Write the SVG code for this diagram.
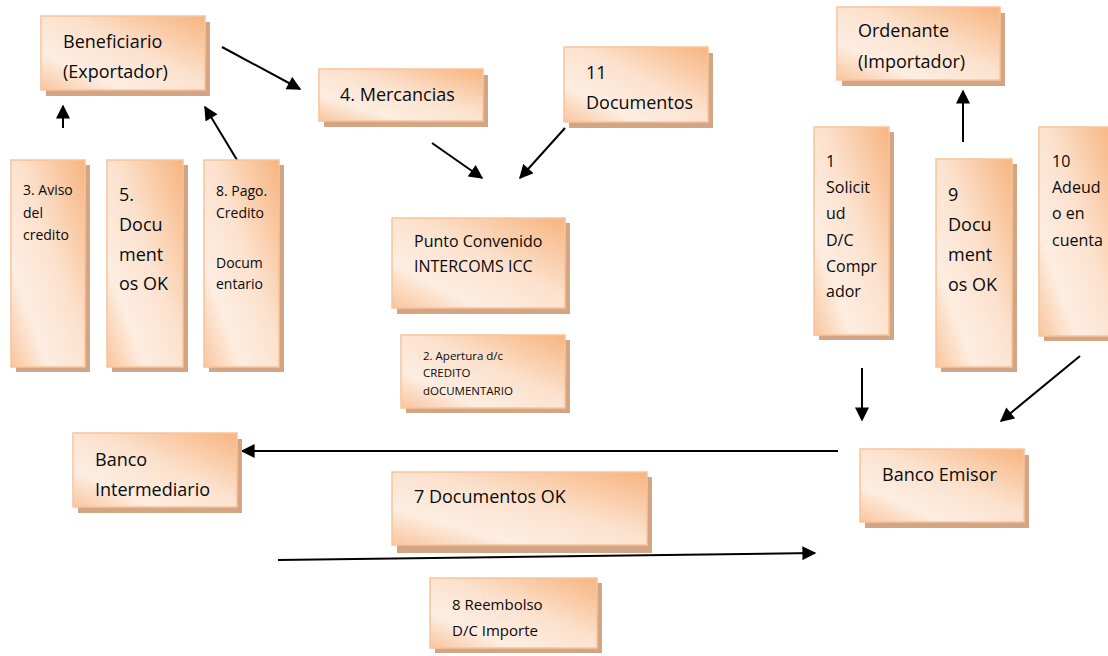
<svg xmlns="http://www.w3.org/2000/svg" width="1108" height="656" viewBox="0 0 1108 656">
  <defs>
    <linearGradient id="boxFill" x1="1" y1="0" x2="0" y2="1">
      <stop offset="0" stop-color="#F7B47F"/>
      <stop offset="0.45" stop-color="#FCE2CE"/>
      <stop offset="0.75" stop-color="#FDEDE1"/>
      <stop offset="1" stop-color="#F9C59C"/>
    </linearGradient>
    <marker id="arrow" viewBox="0 0 10 10" refX="9" refY="5" markerWidth="7.5" markerHeight="7" markerUnits="strokeWidth" orient="auto">
      <path d="M0,0 L10,5 L0,10 Z" fill="#000"/>
    </marker>
  </defs>
  <style>
    .shadow { fill: #D2A584; }
    .box { fill: url(#boxFill); stroke: #F9C39A; stroke-width: 1.5; }
    text { font-family: "Open Sans", "Liberation Sans", sans-serif; fill: #0a0a0a; }
    .t18 { font-size: 18px; }
    .t16 { font-size: 16px; }
    .t15 { font-size: 15px; }
    .t14 { font-size: 14px; }
    .t12 { font-size: 11.5px; }
    .conn { stroke: #000; stroke-width: 2; fill: none; marker-end: url(#arrow); }
  </style>

  <rect width="1108" height="656" fill="#fff"/>

  <!-- Flow arrows -->
  <g id="connectors">
    <line class="conn" x1="222" y1="47" x2="300" y2="89"/>
    <line class="conn" x1="63" y1="128" x2="63" y2="106"/>
    <line class="conn" x1="237" y1="160" x2="205" y2="107"/>
    <line class="conn" x1="432" y1="143" x2="482" y2="178"/>
    <line class="conn" x1="565" y1="128" x2="520" y2="178"/>
    <line class="conn" x1="963" y1="142" x2="963" y2="91"/>
    <line class="conn" x1="862" y1="368" x2="862" y2="420"/>
    <line class="conn" x1="1080" y1="356" x2="1001" y2="421"/>
    <line class="conn" x1="838" y1="451" x2="242" y2="451"/>
    <line class="conn" x1="278" y1="560" x2="815" y2="553"/>
  </g>

  <g id="beneficiario">
    <rect class="shadow" x="46" y="22" width="164" height="74"/>
    <rect class="box" x="41" y="16" width="164" height="74"/>
    <text class="t18"><tspan x="63" y="48">Beneficiario</tspan><tspan x="63" y="78">(Exportador)</tspan></text>
  </g>

  <g id="mercancias">
    <rect class="shadow" x="324" y="75" width="164" height="52"/>
    <rect class="box" x="319" y="69" width="164" height="52"/>
    <text class="t18" x="340" y="101">4. Mercancias</text>
  </g>

  <g id="documentos11">
    <rect class="shadow" x="569" y="53" width="144" height="75"/>
    <rect class="box" x="564" y="47" width="144" height="75"/>
    <text class="t18"><tspan x="586" y="79">11</tspan><tspan x="586" y="109">Documentos</tspan></text>
  </g>

  <g id="ordenante">
    <rect class="shadow" x="842" y="13" width="163" height="73"/>
    <rect class="box" x="837" y="7" width="163" height="73"/>
    <text class="t18"><tspan x="858" y="37">Ordenante</tspan><tspan x="858" y="68">(Importador)</tspan></text>
  </g>

  <g id="aviso">
    <rect class="shadow" x="16" y="165" width="74" height="207"/>
    <rect class="box" x="11" y="160" width="74" height="207"/>
    <text class="t14"><tspan x="23" y="195">3. Aviso</tspan><tspan x="23" y="218">del</tspan><tspan x="23" y="240">credito</tspan></text>
  </g>

  <g id="documentosOK5">
    <rect class="shadow" x="112" y="165" width="76" height="207"/>
    <rect class="box" x="107" y="160" width="76" height="207"/>
    <text class="t18"><tspan x="119" y="201">5.</tspan><tspan x="119" y="231">Docu</tspan><tspan x="119" y="261">ment</tspan><tspan x="119" y="290">os OK</tspan></text>
  </g>

  <g id="pagoCredito">
    <rect class="shadow" x="209" y="165" width="75" height="207"/>
    <rect class="box" x="204" y="160" width="75" height="207"/>
    <text class="t14"><tspan x="216" y="196">8. Pago.</tspan><tspan x="216" y="218">Credito</tspan><tspan x="216" y="268">Docum</tspan><tspan x="216" y="289">entario</tspan></text>
  </g>

  <g id="puntoConvenido">
    <rect class="shadow" x="397" y="223" width="173" height="91"/>
    <rect class="box" x="392" y="218" width="173" height="90"/>
    <text class="t16"><tspan x="414" y="247">Punto Convenido</tspan><tspan x="414" y="272">INTERCOMS ICC</tspan></text>
  </g>

  <g id="apertura">
    <rect class="shadow" x="406" y="340" width="164" height="73"/>
    <rect class="box" x="401" y="335" width="164" height="73"/>
    <text class="t12"><tspan x="423" y="360">2. Apertura d/c</tspan><tspan x="423" y="377">CREDITO</tspan><tspan x="423" y="395">dOCUMENTARIO</tspan></text>
  </g>

  <g id="solicitud">
    <rect class="shadow" x="819" y="132" width="75" height="208"/>
    <rect class="box" x="814" y="127" width="75" height="208"/>
    <text class="t16"><tspan x="826" y="167">1</tspan><tspan x="826" y="193">Solicit</tspan><tspan x="826" y="219">ud</tspan><tspan x="826" y="246">D/C</tspan><tspan x="826" y="272">Compr</tspan><tspan x="826" y="297">ador</tspan></text>
  </g>

  <g id="documentosOK9">
    <rect class="shadow" x="941" y="164" width="76" height="208"/>
    <rect class="box" x="936" y="159" width="76" height="208"/>
    <text class="t18"><tspan x="948" y="201">9</tspan><tspan x="948" y="231">Docu</tspan><tspan x="948" y="261">ment</tspan><tspan x="948" y="291">os OK</tspan></text>
  </g>

  <g id="adeudo">
    <rect class="shadow" x="1044" y="132" width="75" height="209"/>
    <rect class="box" x="1039" y="127" width="75" height="209"/>
    <text class="t16"><tspan x="1052" y="167">10</tspan><tspan x="1052" y="193">Adeud</tspan><tspan x="1052" y="219">o en</tspan><tspan x="1052" y="246">cuenta</tspan></text>
  </g>

  <g id="bancoIntermediario">
    <rect class="shadow" x="78" y="439" width="164" height="74"/>
    <rect class="box" x="73" y="433" width="164" height="74"/>
    <text class="t18"><tspan x="95" y="466">Banco</tspan><tspan x="95" y="496">Intermediario</tspan></text>
  </g>

  <g id="documentosOK7">
    <rect class="shadow" x="397" y="477" width="255" height="76"/>
    <rect class="box" x="392" y="472" width="255" height="73"/>
    <text class="t18" x="414" y="503">7 Documentos OK</text>
  </g>

  <g id="bancoEmisor">
    <rect class="shadow" x="865" y="455" width="164" height="73"/>
    <rect class="box" x="860" y="449" width="164" height="73"/>
    <text class="t18" x="882" y="481">Banco Emisor</text>
  </g>

  <g id="reembolso">
    <rect class="shadow" x="435" y="583" width="167" height="70"/>
    <rect class="box" x="430" y="578" width="167" height="70"/>
    <text class="t15"><tspan x="452" y="610">8 Reembolso</tspan><tspan x="452" y="636">D/C Importe</tspan></text>
  </g>
</svg>
